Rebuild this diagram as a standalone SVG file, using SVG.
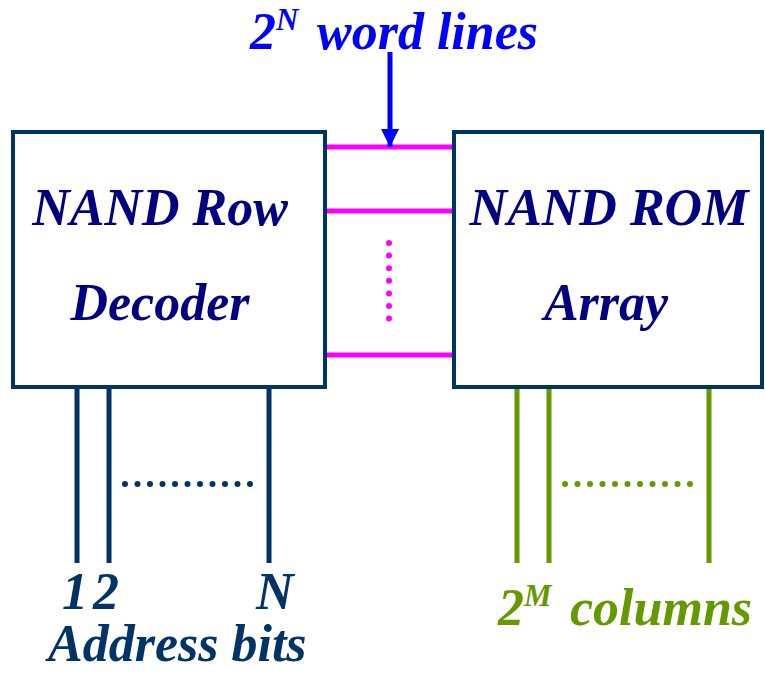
<svg xmlns="http://www.w3.org/2000/svg" width="765" height="673" viewBox="0 0 765 673">
<style>
.t{font-family:"Liberation Serif","Times New Roman",serif;font-weight:bold;font-style:italic;font-size:52px}
.box{fill:#fff;stroke:#003366;stroke-width:4}
.wl{stroke:#ff00ff;stroke-width:5}
.ab{stroke:#003366;stroke-width:5}
.col{stroke:#669900;stroke-width:5}
.dot{stroke-width:6;stroke-linecap:round}
</style>
<defs>
<marker id="ah2" viewBox="0 0 18 18" markerWidth="18" markerHeight="18" refX="18" refY="9" orient="auto" markerUnits="userSpaceOnUse"><path d="M0,0 L18,9 L0,18 z" fill="#0000ff"/></marker>
</defs>
<g id="connectors">
<line class="wl" x1="326" y1="147" x2="453" y2="147"/>
<line class="wl" x1="326" y1="211" x2="453" y2="211"/>
<line class="wl" x1="326" y1="355" x2="453" y2="355"/>
<line class="dot" x1="389" y1="243" x2="389" y2="320" stroke="#ff00ff" stroke-dasharray="0 12.6"/>
<line x1="390" y1="52" x2="390" y2="147" stroke="#0000ff" stroke-width="5" marker-end="url(#ah2)"/>
<line class="ab" x1="77" y1="387" x2="77" y2="563"/>
<line class="ab" x1="109" y1="387" x2="109" y2="563"/>
<line class="ab" x1="269" y1="387" x2="269" y2="563"/>
<line class="dot" x1="125" y1="484" x2="251" y2="484" stroke="#003366" stroke-dasharray="0 12.5"/>
<line class="col" x1="517" y1="387" x2="517" y2="563"/>
<line class="col" x1="549" y1="387" x2="549" y2="563"/>
<line class="col" x1="709" y1="387" x2="709" y2="563"/>
<line class="dot" x1="565" y1="484" x2="691" y2="484" stroke="#669900" stroke-dasharray="0 12.5"/>
</g>
<g id="decoder">
<rect class="box" x="13" y="132" width="312" height="255"/>
<text class="t" x="160" y="225" fill="#000080" text-anchor="middle">NAND Row</text>
<text class="t" x="160" y="320" fill="#000080" text-anchor="middle">Decoder</text>
</g>
<g id="rom">
<rect class="box" x="454" y="132" width="308" height="255"/>
<text class="t" x="609" y="225" fill="#000080" text-anchor="middle">NAND ROM</text>
<text class="t" x="606" y="320" fill="#000080" text-anchor="middle">Array</text>
</g>
<g id="wordlines-label">
<text class="t" x="250" y="49" fill="#0000ff">2<tspan font-size="31" dy="-19">N</tspan><tspan x="317" dy="19">word lines</tspan></text>
</g>
<g id="address-label">
<text class="t" x="62" y="609" fill="#003366" letter-spacing="5">12</text>
<text class="t" x="256" y="609" fill="#003366">N</text>
<text class="t" x="48" y="661" fill="#003366" font-size="51">Address bits</text>
</g>
<g id="columns-label">
<text class="t" x="498" y="625" fill="#669900">2<tspan font-size="31" dy="-19">M</tspan><tspan x="570" dy="19">columns</tspan></text>
</g>
</svg>
